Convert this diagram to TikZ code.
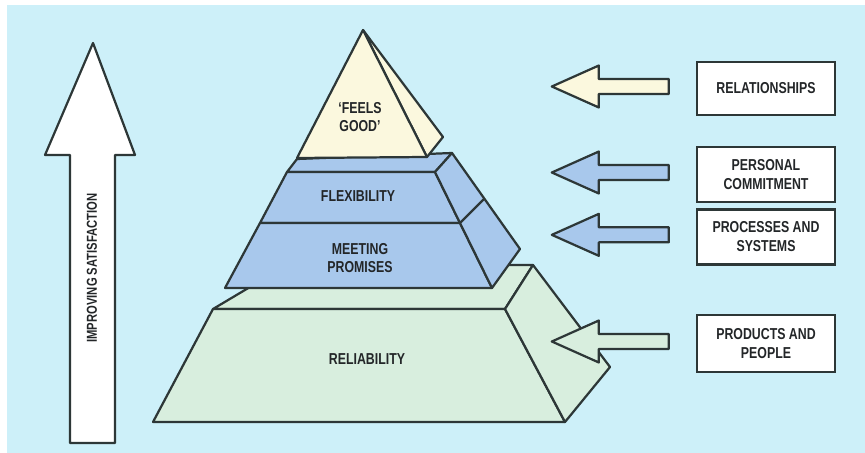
\documentclass[tikz,border=0pt]{standalone}
\usepackage{fontspec}
\setmainfont{Liberation Sans}[FakeStretch=0.78]
\usepackage{tikz}
\usetikzlibrary{positioning}
\definecolor{sky}{RGB}{205,240,249}
\definecolor{edge}{RGB}{45,55,55}
\definecolor{ink}{RGB}{35,38,40}
\definecolor{cream}{RGB}{251,248,222}
\definecolor{tierblue}{RGB}{168,200,236}
\definecolor{mint}{RGB}{216,238,222}

\begin{document}
\begin{tikzpicture}[x=0.03cm,y=-0.03cm,
 face/.style={draw=edge,line width=1.9pt,line join=round},
 lbl/.style={text=ink,align=center,font=\fontsize{13.5}{16}\selectfont\bfseries},
 tag/.style={lbl,draw=edge,line width=2pt,fill=white,minimum width=4.14cm,minimum height=1.65cm,inner sep=0pt}]
\useasboundingbox (0,0) rectangle (865,453);
\fill[white] (0,0) rectangle (865,453);
\fill[sky] (7,5) rectangle (865,453);
% upward arrow on the left
\draw[face,fill=white] (93,43)--(135,155)--(115,155)--(115,443)--(70,443)--(70,155)--(45,155)--cycle;
\node[lbl,font=\fontsize{12.3}{14}\selectfont\bfseries,rotate=90] (up) at (92,268) {IMPROVING SATISFACTION};
% bottom tier
\draw[face,fill=mint] (213,309)--(505,309)--(533,265)--(287,265)--cycle;
\draw[face,fill=mint] (213,309)--(505,309)--(565,422)--(153,422)--cycle;
\draw[face,fill=mint] (505,309)--(533,265)--(610,367)--(565,422)--cycle;
% middle tiers
\draw[face,fill=tierblue] (287,172)--(435,172)--(452,153)--(297,159)--cycle;
\draw[face,fill=tierblue] (287,172)--(435,172)--(460,223)--(260,223)--cycle;
\draw[face,fill=tierblue] (260,223)--(460,223)--(492,288)--(225,288)--cycle;
\draw[face,fill=tierblue] (435,172)--(452,153)--(520,249)--(492,288)--(460,223)--cycle;
\draw[face] (460,223)--(484,199);
% top
\draw[face,fill=cream] (363,30)--(443,137)--(427,157)--cycle;
\draw[face,fill=cream] (363,30)--(427,157)--(297,158)--cycle;
\node[lbl] (good) at (360,117) {‘FEELS\\GOOD’};
\node[lbl] (flex) at (358,196) {FLEXIBILITY};
\node[lbl] (promise) at (360,258) {MEETING\\PROMISES};
\node[lbl] (reliab) at (367,359) {RELIABILITY};
% factor boxes
\node[tag,minimum height=1.59cm] (rel) at (766,88.5) {RELATIONSHIPS};
\node[tag] (pers) at (766,174.5) {PERSONAL\\COMMITMENT};
\node[tag,below=0.15cm of pers] (proc) {PROCESSES AND\\SYSTEMS};
\node[tag,minimum height=1.71cm] (prod) at (766,343.5) {PRODUCTS AND\\PEOPLE};
\foreach \b/\c in {rel/cream,pers/tierblue,proc/tierblue,prod/mint}
 \draw[face,fill=\c] (\b.west) ++(-27,-2) -- ++(0,-7.5) -- ++(-70,0) -- ++(0,-13.5)
 -- ++(-47,21) -- ++(47,21) -- ++(0,-13.5) -- ++(70,0) -- cycle;
\end{tikzpicture}
\end{document}
